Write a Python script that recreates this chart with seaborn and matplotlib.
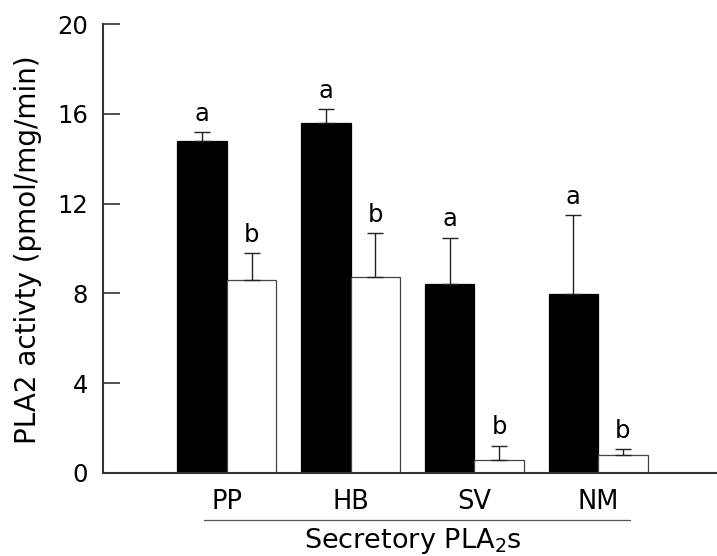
import numpy as np
import pandas as pd
import matplotlib
matplotlib.use("Agg")
import matplotlib.pyplot as plt
import matplotlib.transforms as mtransforms
import seaborn as sns

# ---- data ----
categories = ["PP", "HB", "SV", "NM"]
series_names = ["Group 1", "Group 2"]
values_black = [14.8, 15.6, 8.4, 7.97]
errors_black = [0.39, 0.61, 2.08, 3.52]
values_white = [8.6, 8.75, 0.58, 0.79]
errors_white = [1.19, 1.94, 0.62, 0.27]
letters_black = ["a", "a", "a", "a"]
letters_white = ["b", "b", "b", "b"]
y_ticks = [0, 4, 8, 12, 16, 20]
y_label = "PLA2 activty (pmol/mg/min)"
x_label = "Secretory PLA$_2$s"

df = pd.DataFrame({
    "enzyme": categories * 2,
    "series": [series_names[0]] * len(categories) + [series_names[1]] * len(categories),
    "activity": values_black + values_white,
})

sns.set_theme(style="white")
plt.rcParams["font.family"] = ["DejaVu Sans"]
plt.rcParams["mathtext.default"] = "regular"

fig = plt.figure(figsize=(7.17, 5.56), dpi=100)
ax = fig.add_axes([103 / 717, 83.3 / 556, 614 / 717, 448.4 / 556])

sns.barplot(data=df, x="enzyme", y="activity", hue="series",
            order=categories, hue_order=series_names,
            palette=["black", "white"], errorbar=None, legend=False,
            width=0.8, ax=ax, zorder=2)

edge_cols = ["black", "#444444"]
all_vals = [values_black, values_white]
all_errs = [errors_black, errors_white]
all_letters = [letters_black, letters_white]
for cont, ec, vals, errs, letters in zip(ax.containers, edge_cols, all_vals, all_errs, all_letters):
    xs = []
    for p in cont:
        p.set_edgecolor(ec)
        p.set_linewidth(0.9)
        xs.append(p.get_x() + p.get_width() / 2)
    xs = np.array(xs)
    vals = np.array(vals)
    errs = np.array(errs)
    ax.errorbar(xs, vals, yerr=[np.zeros_like(errs), errs], fmt="none",
                ecolor="#222222", elinewidth=1.0, capsize=5.8, capthick=1.0, zorder=3)
    for x, v, e, t in zip(xs, vals, errs, letters):
        ax.annotate(t, xy=(x, v + e), xytext=(0, 4.6), textcoords="offset points",
                    ha="center", va="bottom", fontsize=17.5, color="black")

ax.set_xlim(-1.0, 3.96)
ax.set_ylim(0, 20)
ax.set_yticks(y_ticks)
ax.set_yticklabels([str(t) for t in y_ticks])

for s in ["top", "right"]:
    ax.spines[s].set_visible(False)
ax.spines["left"].set_color("#333333")
ax.spines["left"].set_linewidth(1.5)
ax.spines["bottom"].set_color("#333333")
ax.spines["bottom"].set_linewidth(1.5)

ax.tick_params(axis="y", direction="in", length=12, width=1.2, color="#333333",
               pad=10.8, labelsize=17.5, labelcolor="black", left=True)
ax.tick_params(axis="x", length=0, pad=12, labelsize=18.5, labelcolor="black")

ax.set_ylabel(y_label, fontsize=20, color="black")
ax.yaxis.set_label_coords(-0.099, 0.497)
ax.set_xlabel("")

trans = mtransforms.blended_transform_factory(ax.transData, ax.transAxes)
ax.plot([-0.186, 3.259], [-0.1055, -0.1055], transform=trans, color="#555555",
        linewidth=0.9, clip_on=False)
ax.text(1.5, -0.168, x_label, transform=trans, ha="center", va="baseline",
        fontsize=19.5, color="black")

fig.savefig("out.png", dpi=100)
